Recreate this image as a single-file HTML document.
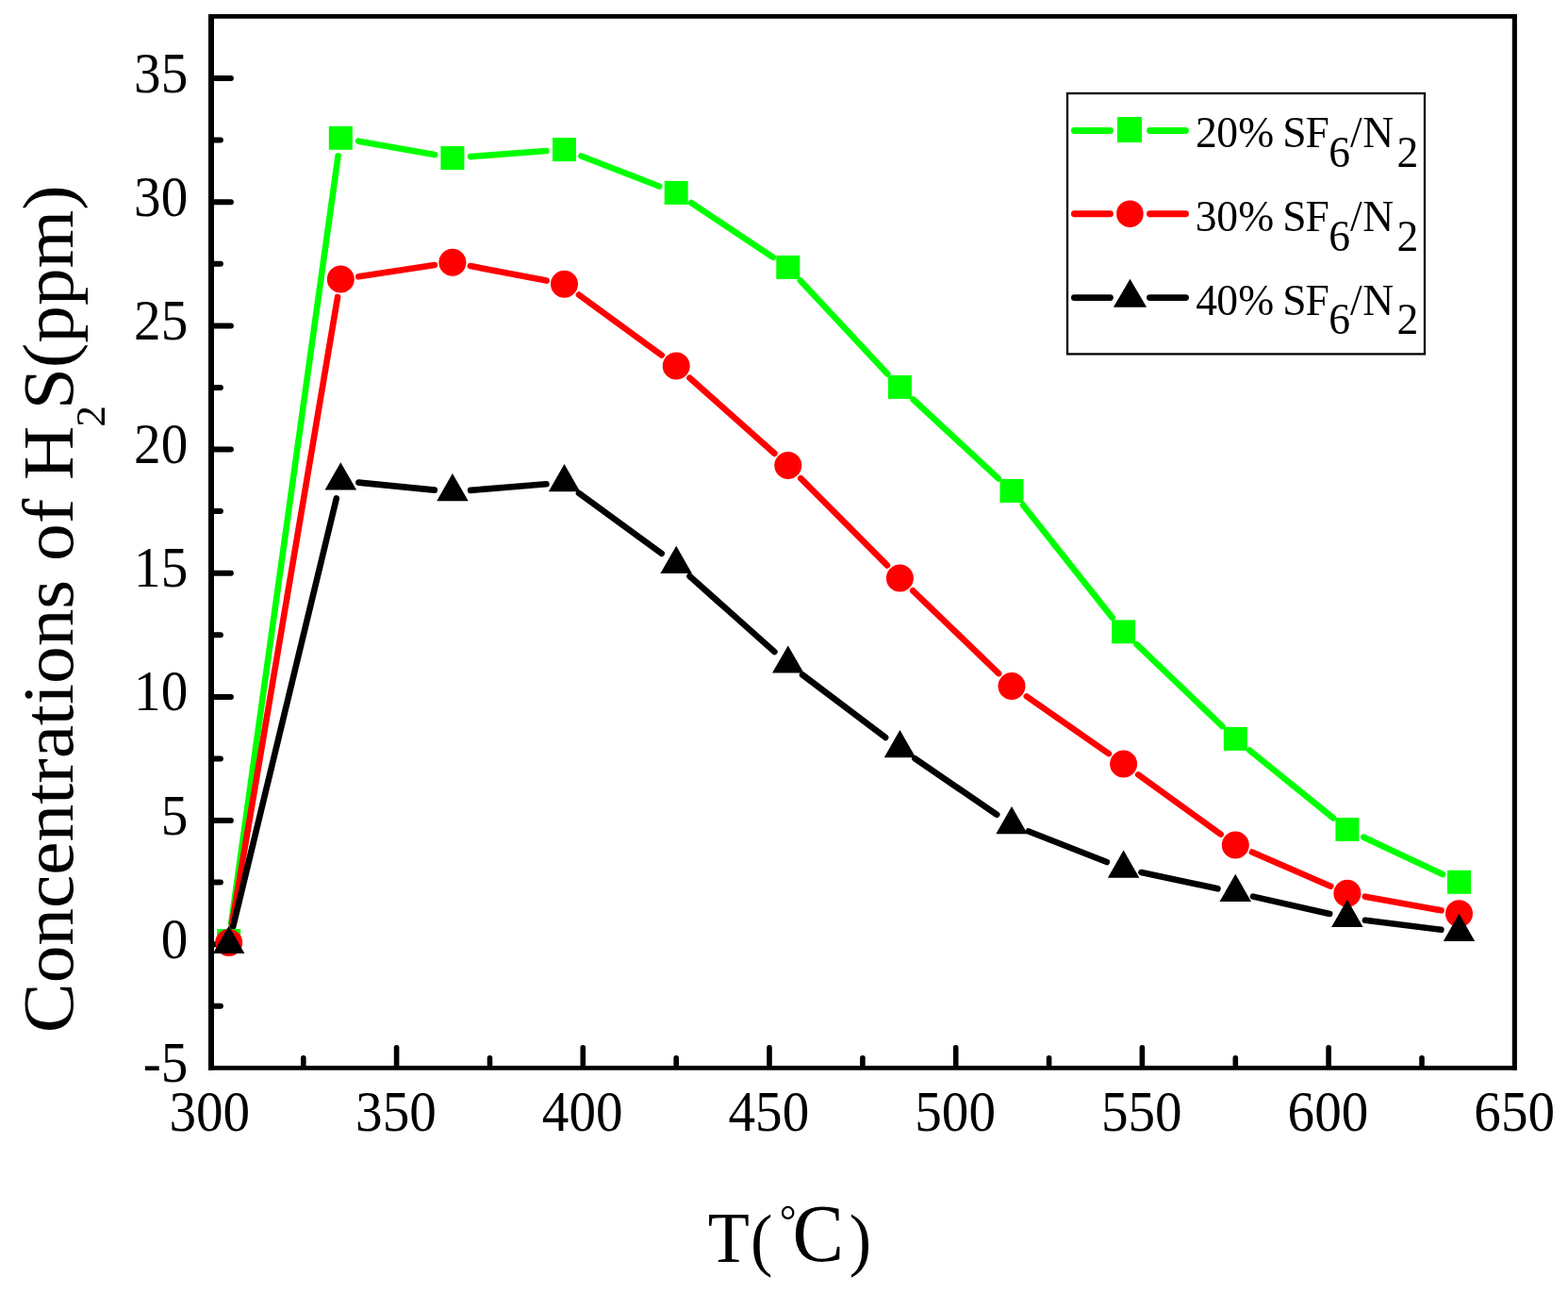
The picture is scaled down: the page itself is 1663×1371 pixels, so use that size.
<!DOCTYPE html>
<html><head><meta charset="utf-8"><style>
html,body{margin:0;padding:0;background:#fff;}
body{width:1663px;height:1371px;overflow:hidden;}
svg{display:block;}
</style></head><body>
<svg width="1663" height="1371" viewBox="0 0 1663 1371">
<rect width="1663" height="1371" fill="#fff"/>
<g stroke="#000" stroke-linecap="butt">
<line x1="224" y1="15.1" x2="224" y2="1134.7" stroke-width="6"/>
<line x1="1606.35" y1="15.1" x2="1606.35" y2="1134.7" stroke-width="5.1"/>
<line x1="221" y1="17.45" x2="1608.9" y2="17.45" stroke-width="4.7"/>
<line x1="221" y1="1132.3" x2="1608.9" y2="1132.3" stroke-width="4.8"/>
</g>
<g stroke="#000" stroke-width="6" stroke-linecap="round">
<line x1="226" y1="1001.2" x2="244.9" y2="1001.2"/>
<line x1="226" y1="870.0" x2="244.9" y2="870.0"/>
<line x1="226" y1="738.9" x2="244.9" y2="738.9"/>
<line x1="226" y1="607.7" x2="244.9" y2="607.7"/>
<line x1="226" y1="476.5" x2="244.9" y2="476.5"/>
<line x1="226" y1="345.4" x2="244.9" y2="345.4"/>
<line x1="226" y1="214.2" x2="244.9" y2="214.2"/>
<line x1="226" y1="83.0" x2="244.9" y2="83.0"/>
<line x1="226" y1="1066.8" x2="233.9" y2="1066.8"/>
<line x1="226" y1="935.6" x2="233.9" y2="935.6"/>
<line x1="226" y1="804.5" x2="233.9" y2="804.5"/>
<line x1="226" y1="673.3" x2="233.9" y2="673.3"/>
<line x1="226" y1="542.1" x2="233.9" y2="542.1"/>
<line x1="226" y1="411.0" x2="233.9" y2="411.0"/>
<line x1="226" y1="279.8" x2="233.9" y2="279.8"/>
<line x1="226" y1="148.6" x2="233.9" y2="148.6"/>
</g><g stroke="#000" stroke-width="5.6" stroke-linecap="round">
<line x1="420.6" y1="1130" x2="420.6" y2="1110.8"/>
<line x1="618.3" y1="1130" x2="618.3" y2="1110.8"/>
<line x1="816.0" y1="1130" x2="816.0" y2="1110.8"/>
<line x1="1013.7" y1="1130" x2="1013.7" y2="1110.8"/>
<line x1="1211.4" y1="1130" x2="1211.4" y2="1110.8"/>
<line x1="1409.1" y1="1130" x2="1409.1" y2="1110.8"/>
<line x1="321.8" y1="1130" x2="321.8" y2="1121.8"/>
<line x1="519.5" y1="1130" x2="519.5" y2="1121.8"/>
<line x1="717.2" y1="1130" x2="717.2" y2="1121.8"/>
<line x1="914.9" y1="1130" x2="914.9" y2="1121.8"/>
<line x1="1112.6" y1="1130" x2="1112.6" y2="1121.8"/>
<line x1="1310.3" y1="1130" x2="1310.3" y2="1121.8"/>
<line x1="1508.0" y1="1130" x2="1508.0" y2="1121.8"/>
</g>
<defs><clipPath id="pc"><rect x="227" y="20" width="1376" height="1110"/></clipPath></defs>
<g clip-path="url(#pc)">
<g stroke="#00ff00" stroke-width="6.6" stroke-linecap="round"><line x1="219.0" y1="994.5" x2="223.6" y2="995.0"/><line x1="245.3" y1="978.5" x2="358.6" y2="165.3"/><line x1="380.2" y1="149.7" x2="461.0" y2="164.1"/><line x1="499.1" y1="166.1" x2="579.4" y2="160.0"/><line x1="616.5" y1="165.5" x2="699.2" y2="197.5"/><line x1="733.1" y1="215.0" x2="819.8" y2="272.8"/><line x1="848.9" y1="297.4" x2="941.3" y2="396.4"/><line x1="968.5" y1="423.5" x2="1058.9" y2="507.4"/><line x1="1085.0" y1="535.5" x2="1179.7" y2="654.9"/><line x1="1205.5" y1="683.2" x2="1296.4" y2="770.1"/><line x1="1325.2" y1="795.5" x2="1414.0" y2="867.4"/><line x1="1446.3" y1="887.7" x2="1530.1" y2="927.1"/></g>
<g stroke="#ff0000" stroke-width="6.6" stroke-linecap="round"><line x1="245.9" y1="980.5" x2="358.1" y2="314.9"/><line x1="380.3" y1="293.2" x2="460.9" y2="281.1"/><line x1="498.8" y1="282.0" x2="579.7" y2="297.6"/><line x1="614.0" y1="312.6" x2="701.7" y2="376.6"/><line x1="731.5" y1="400.7" x2="821.4" y2="480.8"/><line x1="849.3" y1="507.2" x2="940.9" y2="599.4"/><line x1="968.2" y1="626.3" x2="1059.2" y2="714.1"/><line x1="1088.8" y1="738.4" x2="1175.9" y2="799.1"/><line x1="1207.2" y1="821.4" x2="1294.7" y2="884.6"/><line x1="1327.9" y1="903.5" x2="1411.3" y2="939.7"/><line x1="1447.8" y1="950.7" x2="1528.6" y2="965.3"/></g>
<g stroke="#000" stroke-width="6.6" stroke-linecap="round"><line x1="247.2" y1="982.5" x2="356.8" y2="528.4"/><line x1="380.4" y1="511.6" x2="460.8" y2="519.6"/><line x1="499.1" y1="519.9" x2="579.4" y2="513.2"/><line x1="614.0" y1="522.9" x2="701.7" y2="586.9"/><line x1="731.5" y1="611.0" x2="821.4" y2="691.1"/><line x1="851.1" y1="715.5" x2="939.1" y2="781.9"/><line x1="970.3" y1="804.3" x2="1057.2" y2="863.7"/><line x1="1090.9" y1="881.5" x2="1173.8" y2="914.0"/><line x1="1210.4" y1="925.0" x2="1291.5" y2="942.3"/><line x1="1329.0" y1="950.6" x2="1410.2" y2="969.0"/><line x1="1447.9" y1="975.7" x2="1528.4" y2="985.8"/></g>
</g>
<g fill="#00ff00"><rect x="230.2" y="985.0" width="25" height="25"/><rect x="348.8" y="133.8" width="25" height="25"/><rect x="467.4" y="155.0" width="25" height="25"/><rect x="586.0" y="146.1" width="25" height="25"/><rect x="704.7" y="191.9" width="25" height="25"/><rect x="823.3" y="270.9" width="25" height="25"/><rect x="941.9" y="397.9" width="25" height="25"/><rect x="1060.5" y="508.0" width="25" height="25"/><rect x="1179.1" y="657.4" width="25" height="25"/><rect x="1297.8" y="770.9" width="25" height="25"/><rect x="1416.4" y="867.0" width="25" height="25"/><rect x="1535.0" y="922.8" width="25" height="25"/></g>
<g fill="#ff0000"><circle cx="242.7" cy="999.4" r="14.5"/><circle cx="361.3" cy="296.0" r="14.5"/><circle cx="479.9" cy="278.3" r="14.5"/><circle cx="598.5" cy="301.3" r="14.5"/><circle cx="717.2" cy="387.9" r="14.5"/><circle cx="835.8" cy="493.6" r="14.5"/><circle cx="954.4" cy="613.0" r="14.5"/><circle cx="1073.0" cy="727.4" r="14.5"/><circle cx="1191.6" cy="810.1" r="14.5"/><circle cx="1310.3" cy="895.9" r="14.5"/><circle cx="1428.9" cy="947.3" r="14.5"/><circle cx="1547.5" cy="968.7" r="14.5"/></g>
<g fill="#000"><polygon points="242.7,981.7 259.4,1010.9 225.9,1010.9"/><polygon points="361.3,490.2 378.1,519.4 344.6,519.4"/><polygon points="479.9,502.0 496.7,531.2 463.2,531.2"/><polygon points="598.5,492.1 615.3,521.3 581.8,521.3"/><polygon points="717.2,578.7 733.9,607.9 700.4,607.9"/><polygon points="835.8,684.4 852.5,713.6 819.0,713.6"/><polygon points="954.4,774.0 971.2,803.2 937.7,803.2"/><polygon points="1073.0,855.0 1089.8,884.2 1056.3,884.2"/><polygon points="1191.6,901.5 1208.4,930.7 1174.9,930.7"/><polygon points="1310.3,926.8 1327.0,956.0 1293.5,956.0"/><polygon points="1428.9,953.8 1445.6,983.0 1412.1,983.0"/><polygon points="1547.5,968.7 1564.2,997.9 1530.8,997.9"/></g>
<rect x="1132" y="99" width="379" height="276.4" fill="none" stroke="#000" stroke-width="2.3"/>
<g stroke="#00ff00" stroke-width="6.9" stroke-linecap="round"><line x1="1139.4" y1="138.5" x2="1177.4" y2="138.5"/><line x1="1219.5" y1="138.5" x2="1257.5" y2="138.5"/></g>
<rect x="1185" y="124.0" width="26" height="27" fill="#00ff00"/>
<g stroke="#ff0000" stroke-width="6.9" stroke-linecap="round"><line x1="1139.4" y1="226.7" x2="1177.4" y2="226.7"/><line x1="1219.5" y1="226.7" x2="1257.5" y2="226.7"/></g>
<circle cx="1198.4" cy="226.7" r="14.3" fill="#ff0000"/>
<g stroke="#000" stroke-width="6.9" stroke-linecap="round"><line x1="1139.4" y1="315.6" x2="1177.4" y2="315.6"/><line x1="1219.5" y1="315.6" x2="1257.5" y2="315.6"/></g>
<polygon points="1198.5,295.8 1216.1,325.70000000000005 1180.9,325.70000000000005" fill="#000"/>
<text font-family="Liberation Serif, serif" font-size="45.6"><tspan x="1268.0 1290.2 1313.3 1351.3 1360.2 1384.6" y="156.1">20% SF</tspan><tspan x="1409.3" y="176.6">6</tspan><tspan x="1432.0 1445.2" y="156.1">/N</tspan><tspan x="1481.6" y="176.6">2</tspan></text>
<text font-family="Liberation Serif, serif" font-size="45.6"><tspan x="1267.8 1290.2 1313.3 1351.3 1360.2 1384.6" y="245.4">30% SF</tspan><tspan x="1409.3" y="265.9">6</tspan><tspan x="1432.0 1445.2" y="245.4">/N</tspan><tspan x="1481.6" y="265.9">2</tspan></text>
<text font-family="Liberation Serif, serif" font-size="45.6"><tspan x="1268.3 1290.2 1313.3 1351.3 1360.2 1384.6" y="333.8">40% SF</tspan><tspan x="1409.3" y="354.3">6</tspan><tspan x="1432.0 1445.2" y="333.8">/N</tspan><tspan x="1481.6" y="354.3">2</tspan></text>
<text font-family="Liberation Serif, serif" font-size="57.2" text-anchor="end" transform="translate(199.3,1146.9) scale(1,1.055)">-5</text>
<text font-family="Liberation Serif, serif" font-size="57.2" text-anchor="end" transform="translate(199.3,1015.7) scale(1,1.055)">0</text>
<text font-family="Liberation Serif, serif" font-size="57.2" text-anchor="end" transform="translate(199.3,884.5) scale(1,1.055)">5</text>
<text font-family="Liberation Serif, serif" font-size="57.2" text-anchor="end" transform="translate(199.3,753.4) scale(1,1.055)">10</text>
<text font-family="Liberation Serif, serif" font-size="57.2" text-anchor="end" transform="translate(199.3,622.2) scale(1,1.055)">15</text>
<text font-family="Liberation Serif, serif" font-size="57.2" text-anchor="end" transform="translate(199.3,491.0) scale(1,1.055)">20</text>
<text font-family="Liberation Serif, serif" font-size="57.2" text-anchor="end" transform="translate(199.3,359.9) scale(1,1.055)">25</text>
<text font-family="Liberation Serif, serif" font-size="57.2" text-anchor="end" transform="translate(199.3,228.7) scale(1,1.055)">30</text>
<text font-family="Liberation Serif, serif" font-size="57.2" text-anchor="end" transform="translate(199.3,97.5) scale(1,1.055)">35</text>
<text font-family="Liberation Serif, serif" font-size="57.2" text-anchor="middle" transform="translate(222.3,1198.6) scale(1,1.055)">300</text>
<text font-family="Liberation Serif, serif" font-size="57.2" text-anchor="middle" transform="translate(420.0,1198.6) scale(1,1.055)">350</text>
<text font-family="Liberation Serif, serif" font-size="57.2" text-anchor="middle" transform="translate(617.7,1198.6) scale(1,1.055)">400</text>
<text font-family="Liberation Serif, serif" font-size="57.2" text-anchor="middle" transform="translate(815.4,1198.6) scale(1,1.055)">450</text>
<text font-family="Liberation Serif, serif" font-size="57.2" text-anchor="middle" transform="translate(1013.1,1198.6) scale(1,1.055)">500</text>
<text font-family="Liberation Serif, serif" font-size="57.2" text-anchor="middle" transform="translate(1210.8,1198.6) scale(1,1.055)">550</text>
<text font-family="Liberation Serif, serif" font-size="57.2" text-anchor="middle" transform="translate(1408.5,1198.6) scale(1,1.055)">600</text>
<text font-family="Liberation Serif, serif" font-size="57.2" text-anchor="middle" transform="translate(1606.2,1198.6) scale(1,1.055)">650</text>
<text font-family="Liberation Serif, serif" transform="scale(0.95,1)"><tspan font-size="76" x="790.2" y="1337.9">T</tspan><tspan font-size="74" x="837.9" y="1338.6">(</tspan><tspan font-size="47" x="870.4" y="1310.1">°</tspan><tspan font-size="86" x="884.7" y="1337.1">C</tspan><tspan font-size="74" x="948.2" y="1338.6">)</tspan></text>
<text font-family="Liberation Serif, serif" font-size="77" transform="translate(77,1095.3) rotate(-90) scale(1.031,1)"><tspan x="0" y="0">Concentrations of H</tspan><tspan font-size="44.3" x="623.3" y="34.1">2</tspan><tspan x="641.1" y="0">S(ppm)</tspan></text>
</svg>
</body></html>
